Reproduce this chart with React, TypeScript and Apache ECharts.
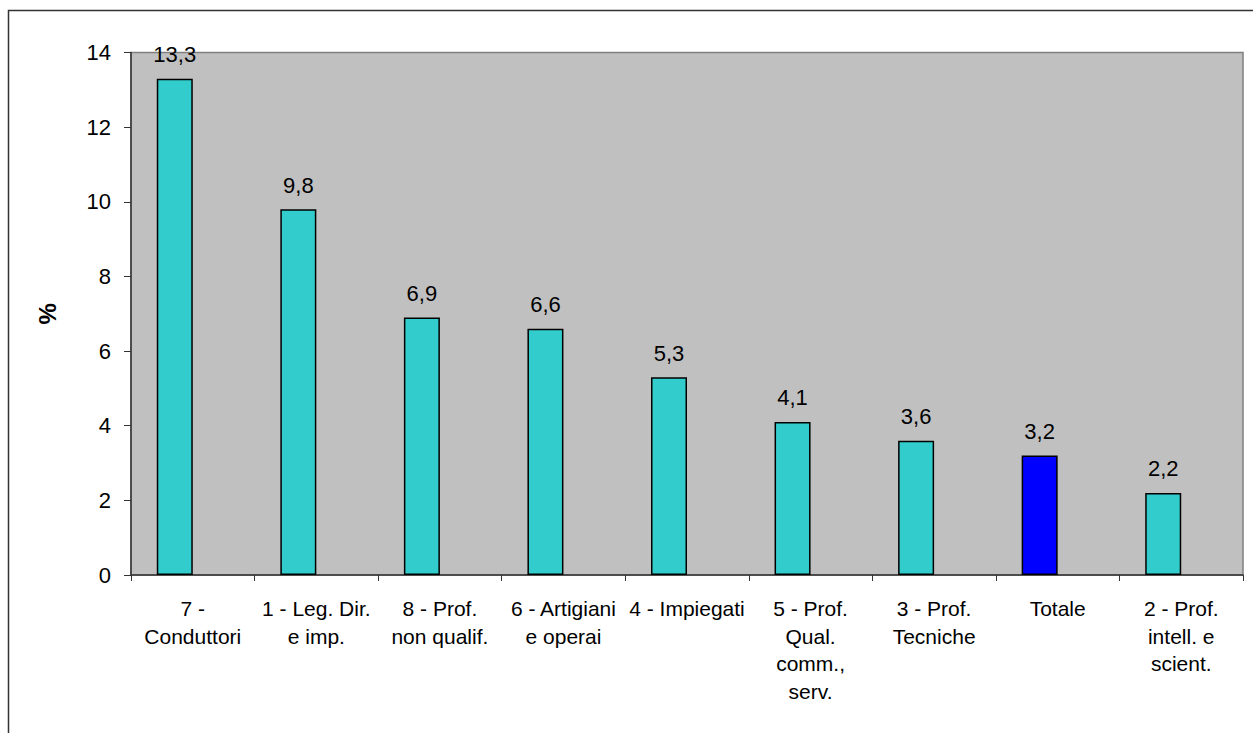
import React, { useEffect, useRef } from "react";
import * as echarts from "echarts";

const categories = [
  "7 -\nConduttori",
  "1 - Leg. Dir.\ne imp.",
  "8 - Prof.\nnon qualif.",
  "6 - Artigiani\ne operai",
  "4 - Impiegati",
  "5 - Prof.\nQual.\ncomm.,\nserv.",
  "3 - Prof.\nTecniche",
  "Totale",
  "2 - Prof.\nintell. e\nscient.",
];
const values = [13.3, 9.8, 6.9, 6.6, 5.3, 4.1, 3.6, 3.2, 2.2];
const highlightCategory = "Totale";
const yTicks = { min: 0, max: 14, interval: 2 };

const FONT = "'Liberation Sans', Arial, sans-serif";

export default function App() {
  const ref = useRef<HTMLDivElement>(null);
  useEffect(() => {
    document.body.style.margin = "0";
    const chart = echarts.init(ref.current!, null, { renderer: "svg" });
    chart.setOption({
      animation: false,
      backgroundColor: "#ffffff",
      textStyle: { fontFamily: FONT },
      graphic: [
        {
          type: "rect",
          shape: { x: 8.5, y: 10.5, width: 1300, height: 800 },
          style: { fill: "none", stroke: "#333333", lineWidth: 1.5 },
          silent: true,
          z: -10,
        },
      ],
      grid: {
        left: 131,
        top: 52.5,
        right: 10,
        bottom: 158,
        show: true,
        backgroundColor: "#C0C0C0",
        borderColor: "#808080",
        borderWidth: 1.5,
        containLabel: false,
      },
      xAxis: {
        type: "category",
        data: categories,
        axisLine: { lineStyle: { color: "#333333", width: 1.5 } },
        axisTick: { show: true, length: 6, lineStyle: { color: "#333333" } },
        axisLabel: {
          interval: 0,
          color: "#000",
          fontFamily: FONT,
          fontSize: 21,
          lineHeight: 27.5,
          margin: 20,
        },
      },
      yAxis: {
        type: "value",
        min: yTicks.min,
        max: yTicks.max,
        interval: yTicks.interval,
        name: "%",
        nameLocation: "middle",
        nameGap: 72,
        nameRotate: 90,
        nameTextStyle: { fontFamily: FONT, fontSize: 24, fontWeight: "bold", color: "#000" },
        axisLine: { show: true, lineStyle: { color: "#333333", width: 1.5 } },
        axisTick: { show: true, length: 7, inside: false, lineStyle: { color: "#333333" } },
        splitLine: { show: false },
        axisLabel: { color: "#000", fontFamily: FONT, fontSize: 22, margin: 20 },
      },
      series: [
        {
          type: "bar",
          barWidth: 36,
          barGap: "0%",
          data: values.map((v, i) => ({
            value: v,
            itemStyle: {
              color: categories[i] === highlightCategory ? "#0000FF" : "#33CCCC",
            },
          })),
          itemStyle: { borderColor: "#000", borderWidth: 1.5 },
          label: {
            show: true,
            position: "top",
            distance: 13,
            color: "#000",
            fontFamily: FONT,
            fontSize: 22,
            formatter: (p: any) => String(p.value).replace(".", ","),
          },
        },
        {
          type: "bar",
          barWidth: 36,
          barGap: "0%",
          data: values.map(() => null),
          silent: true,
        },
      ],
    });
    return () => chart.dispose();
  }, []);
  return <div ref={ref} style={{ width: 1253, height: 733 }} />;
}
